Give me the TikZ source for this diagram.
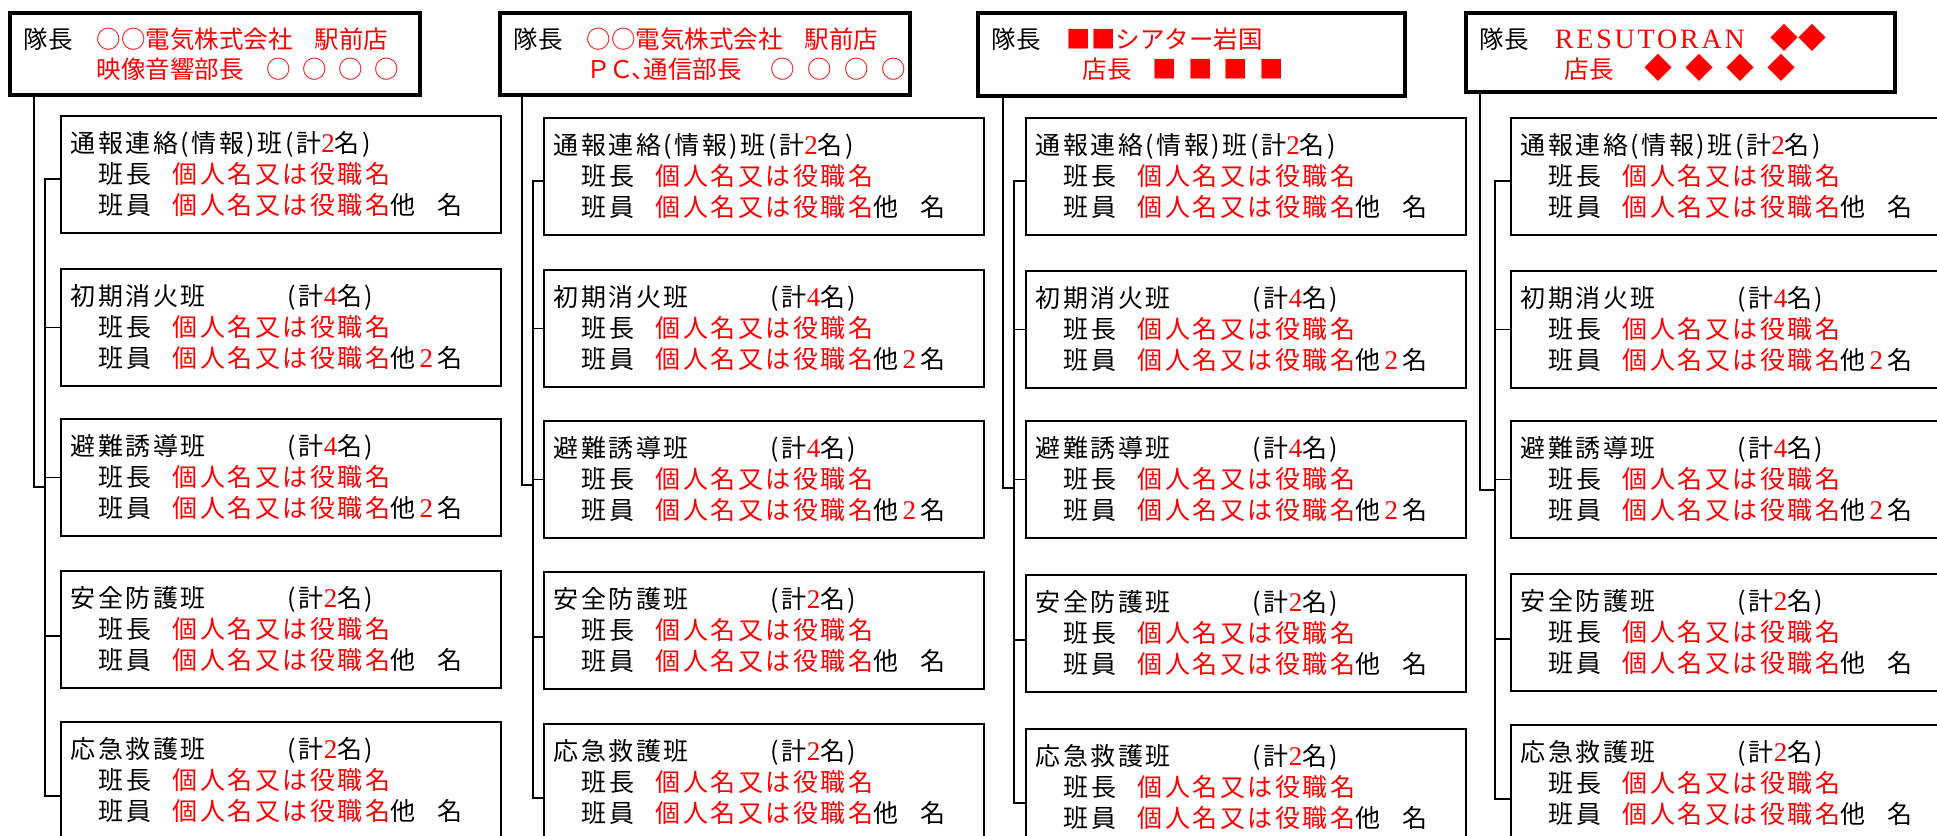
\documentclass[tikz,border=0pt]{standalone}
\usepackage{fontspec}
\setmainfont{Liberation Serif}
\newfontfamily\cjk{Noto Sans CJK JP}
\newfontfamily\cjkls[LetterSpace=10]{Noto Sans CJK JP}
\newfontfamily\serifls[LetterSpace=10]{Liberation Serif}
\newfontfamily\resfont[LetterSpace=10]{Liberation Serif}
\newcommand{\rd}[1]{\textcolor{red}{#1}}
\newcommand{\dig}[1]{{\fontsize{27}{31}\selectfont\serifls #1}}
\newcommand{\fourof}[2]{\makebox[#1][l]{#2}\makebox[#1][l]{#2}\makebox[#1][l]{#2}#2}
\newcommand{\members}[1]{\\\hspace*{28pt}\makebox[74pt][l]{班長}\rd{個人名又は役職名}\\\hspace*{28pt}\makebox[74pt][l]{班員}\rd{個人名又は役職名}他\makebox[22pt][c]{\rd{\dig{#1}}}名}
\newcommand{\ttl}[2]{\makebox[217pt][l]{#1}(計\rd{\dig{#2}}名)}
\tikzset{
  grp/.style={draw, line width=1.8pt, anchor=north west, minimum height=117pt,
    inner xsep=10pt, inner ysep=0pt, text width=420pt, align=left,
    font=\fontsize{25}{31}\selectfont\cjkls},
  lead/.style={draw, line width=3.8pt, anchor=north west, inner xsep=14pt, inner ysep=0pt,
    align=left, font=\fontsize{24.5}{30}\selectfont\cjk},
  conn/.style={draw, line width=1.8pt}
}
\begin{document}
\begin{tikzpicture}[x=1pt,y=-1pt]
\useasboundingbox (0,0) rectangle (1937,835);
\clip (0,0) rectangle (1937,835);
\fill[white] (0,0) rectangle (1937,835);

\node[lead, text width=382pt, minimum height=82pt] (L1) at (8,11)
  {\makebox[73pt][l]{隊長}\rd{\makebox[218pt][l]{○○電気株式会社}駅前店}\\
   \hspace*{73pt}\rd{\makebox[170pt][l]{映像音響部長}\fourof{36pt}{○}}};
\node[lead, text width=382pt, minimum height=82pt] (L2) at (498,11)
  {\makebox[73pt][l]{隊長}\rd{\makebox[218pt][l]{○○電気株式会社}駅前店}\\
   \hspace*{73pt}\rd{\makebox[184pt][l]{\makebox[23pt][l]{Ｐ}\makebox[22pt][l]{Ｃ}\makebox[12pt][l]{、}通信部長}\fourof{37pt}{○}}};
\node[lead, text width=399pt, minimum height=83pt] (L3) at (976,11)
  {\makebox[75pt][l]{隊長}\rd{■■シアター岩国}\\
   \hspace*{91pt}\rd{\makebox[70pt][l]{店長}\fourof{35.5pt}{■}}};
\node[lead, text width=401pt, minimum height=79pt] (L4) at (1464,11)
  {\makebox[75pt][l]{隊長}\rd{\makebox[216pt][l]{\fontsize{28}{30}\selectfont\resfont RESUTORAN}{\fontsize{28}{30}\selectfont ◆◆}}\\
   \hspace*{85pt}\rd{\makebox[80pt][l]{店長}{\fontsize{28}{30}\selectfont\fourof{41pt}{◆}}}};

\foreach \c/\bx/\ya/\yb/\yc/\yd/\ye/\xi/\xo/\yj in
  {1/60/115/268/418/570/721/45/34/487,
   2/543/117/269/420/571/723/533/522/485,
   3/1025/117/270/420/574/728/1014/1003/488,
   4/1510/117/270/420/573/724/1495/1480/490}{
  \node[grp] (c\c-b1) at (\bx,\ya) {通報連絡(情報)班(計\rd{\dig{2}}名)\members{}};
  \node[grp] (c\c-b2) at (\bx,\yb) {\ttl{初期消火班}{4}\members{2}};
  \node[grp] (c\c-b3) at (\bx,\yc) {\ttl{避難誘導班}{4}\members{2}};
  \node[grp] (c\c-b4) at (\bx,\yd) {\ttl{安全防護班}{2}\members{}};
  \node[grp] (c\c-b5) at (\bx,\ye) {\ttl{応急救護班}{2}\members{}};
  \coordinate (c\c-bus) at (\xi,\ya);
  \coordinate (c\c-out) at (\xo,\ya);
  \coordinate (c\c-j) at (\xi,\yj);
  \draw[conn] ([yshift=-4.5pt]c\c-b1.west) -| ([yshift=-15.5pt]c\c-b5.west -| c\c-bus) -- ([yshift=-15.5pt]c\c-b5.west);
  \draw[conn] (c\c-b2.west) -- (c\c-b2.west -| c\c-bus);
  \draw[conn] (c\c-b3.west) -- (c\c-b3.west -| c\c-bus);
  \draw[conn] ([yshift=-6.5pt]c\c-b4.west) -- ([yshift=-6.5pt]c\c-b4.west -| c\c-bus);
  \draw[conn] (L\c.south west -| c\c-out) |- (c\c-j);
}
\end{tikzpicture}
\end{document}
